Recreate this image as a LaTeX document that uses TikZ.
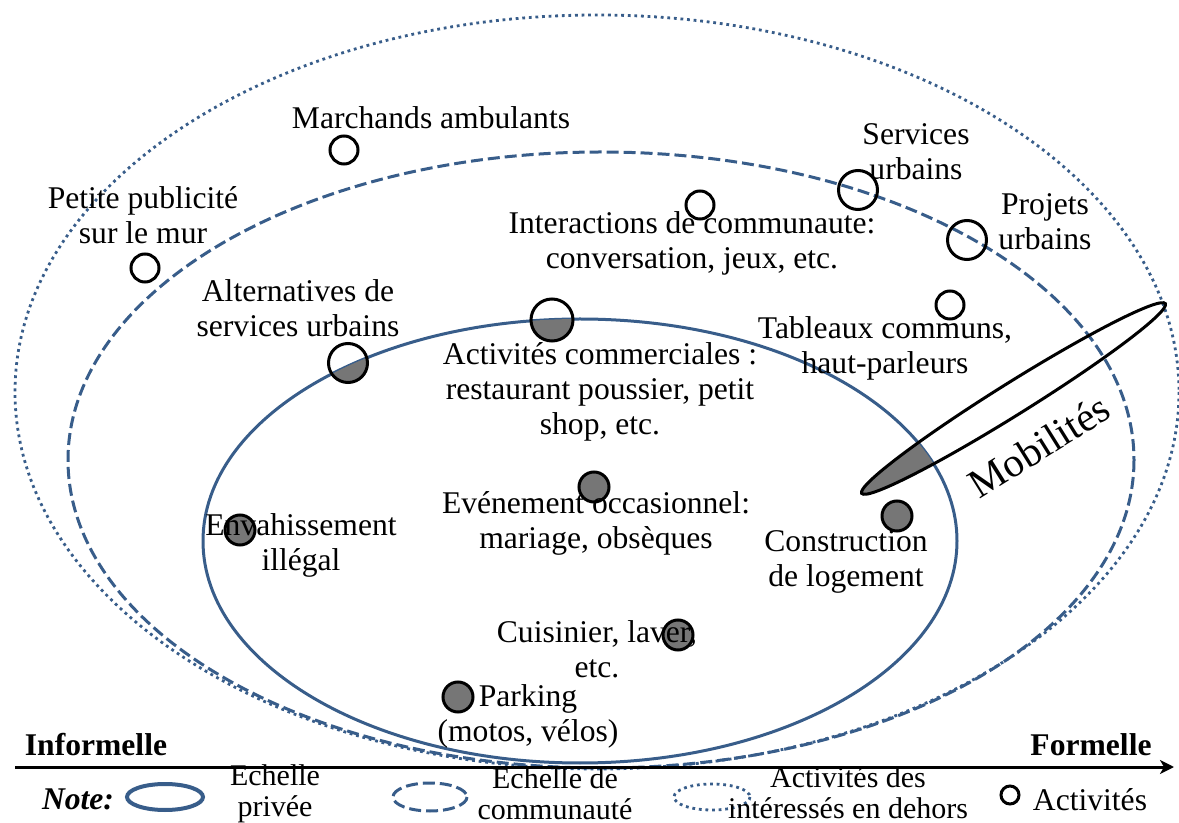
\documentclass[tikz,border=0pt]{standalone}
\usepackage{fontspec}
\setmainfont{Liberation Serif}
\usetikzlibrary{arrows.meta}
\definecolor{ringblue}{RGB}{56,93,138}
\definecolor{actgray}{RGB}{118,118,118}
\begin{document}
\begin{tikzpicture}[x=0.5pt,y=-0.5pt,
  lbl/.style={align=center, font=\fontsize{15.8}{17.5}\selectfont, inner sep=0pt},
  leg/.style={align=center, font=\fontsize{15}{15.5}\selectfont, inner sep=0pt},
  ring/.style={draw=ringblue, line width=1.5pt},
  ringdash/.style={ring, dash pattern=on 6pt off 2.5pt},
  ringdot/.style={ring, line width=1.4pt, dash pattern=on 1.4pt off 1.9pt},
  act/.style={circle, draw=black, line width=1.5pt, inner sep=0pt, minimum size=14pt},
  actL/.style={act, minimum size=19.5pt},
  actF/.style={act, minimum size=15pt}
]
\useasboundingbox (0,0) rectangle (1179,823);

% scales
\draw[ringdot] (597,392) ellipse [x radius=582, y radius=377];
\draw[ringdash] (601,460) ellipse [x radius=533, y radius=308];
\draw[ring] (580,541) ellipse [x radius=377, y radius=222];

% activity positions
\coordinate (pMar) at (344,150);
\coordinate (pPet) at (145,268);
\coordinate (pAlt) at (348,363);
\coordinate (pInt) at (700,205);
\coordinate (pSer) at (858,190);
\coordinate (pPro) at (967,240);
\coordinate (pTab) at (950,305);
\coordinate (pCom) at (552,320);
\coordinate (pEve) at (594,487);
\coordinate (pEnv) at (240,530);
\coordinate (pCon) at (897,516);
\coordinate (pCui) at (678,635);
\coordinate (pPar) at (458,697);

% grey fill of what lies within the private scale
\begin{scope}
  \clip (580,541) ellipse [x radius=377, y radius=222];
  \fill[actgray] (pAlt) circle [radius=9.75pt];
  \fill[actgray] (pCom) circle [radius=10.5pt];
  \fill[actgray] (pEve) circle [radius=7.5pt];
  \fill[actgray] (pEnv) circle [radius=7.5pt];
  \fill[actgray] (pCon) circle [radius=7.5pt];
  \fill[actgray] (pCui) circle [radius=7.5pt];
  \fill[actgray] (pPar) circle [radius=7.5pt];
  \fill[actgray, rotate around={32:(1013.5,398.5)}] (1013.5,398.5) ellipse [x radius=179, y radius=16];
\end{scope}

% Mobilites
\draw[line width=1.5pt, rotate around={32:(1013.5,398.5)}] (1013.5,398.5) ellipse [x radius=179, y radius=16];
\node[font=\fontsize{20.5}{22}\selectfont, rotate=32, inner sep=0pt] (tMob) at (1039,446) {Mobilités};

% activity circles
\node[act] (aMar) at (pMar) {};
\node[act] (aPet) at (pPet) {};
\node[actL] (aAlt) at (pAlt) {};
\node[act] (aInt) at (pInt) {};
\node[actL] (aSer) at (pSer) {};
\node[actL] (aPro) at (pPro) {};
\node[act] (aTab) at (pTab) {};
\node[act, minimum size=21pt] (aCom) at (pCom) {};
\node[actF] (aEve) at (pEve) {};
\node[actF] (aEnv) at (pEnv) {};
\node[actF] (aCon) at (pCon) {};
\node[actF] (aCui) at (pCui) {};
\node[actF] (aPar) at (pPar) {};

% labels
\node[lbl] (tMar) at (431,118) {Marchands ambulants};
\node[lbl] (tPet) at (143,215) {Petite publicité\\sur le mur};
\node[lbl] (tAlt) at (298,308) {Alternatives de\\services urbains};
\node[lbl] (tInt) at (692,243) {Interactions de communaute:\\conversation, jeux, etc.};
\node[lbl] (tSer) at (916,152) {Services\\urbains};
\node[lbl] (tPro) at (1045,222) {Projets\\urbains};
\node[lbl] (tTab) at (885,348) {Tableaux communs,\\haut-parleurs};
\node[lbl] (tCom) at (600,392) {Activités commerciales :\\restaurant poussier, petit\\shop, etc.};
\node[lbl] (tEve) at (596,523) {Evénement occasionnel:\\mariage, obsèques};
\node[lbl] (tEnv) at (301,545) {Envahissement\\illégal};
\node[lbl] (tCon) at (846,562) {Construction\\de logement};
\node[lbl] (tCui) at (597,649) {Cuisinier, laver,\\etc.};
\node[lbl] (tPar) at (528,716) {Parking\\(motos, vélos)};

% axis
\coordinate (axL) at (15,767);
\coordinate (axR) at (1174,767);
\draw[line width=1.5pt, -{Stealth[length=7pt,width=7pt,inset=2pt]}] (axL) -- (axR);
\node[lbl, font=\bfseries\fontsize{15.8}{17.5}\selectfont] (tInf) at (96,745) {Informelle};
\node[lbl, font=\bfseries\fontsize{15.8}{17.5}\selectfont] (tFor) at (1091,745) {Formelle};

% legend
\node[lbl, font=\bfseries\itshape\fontsize{15.8}{17.5}\selectfont] (tNote) at (78,799) {Note:};
\draw[ring, line width=2pt] (165,797) ellipse [x radius=38, y radius=13];
\node[leg] (lPriv) at (275,794) {Echelle\\privée};
\draw[ringdash] (430,797) ellipse [x radius=37, y radius=14];
\node[leg] (lComm) at (555,794) {Echelle de\\communauté};
\draw[ringdot] (712,797) ellipse [x radius=38, y radius=13];
\node[leg] (lDeh) at (848,793) {Activités des\\intéressés en dehors};
\node[act, minimum size=9pt] (lAct) at (1010,795) {};
\node[leg, font=\fontsize{15.8}{17}\selectfont] (lActT) at (1090,800) {Activités};
\end{tikzpicture}
\end{document}
